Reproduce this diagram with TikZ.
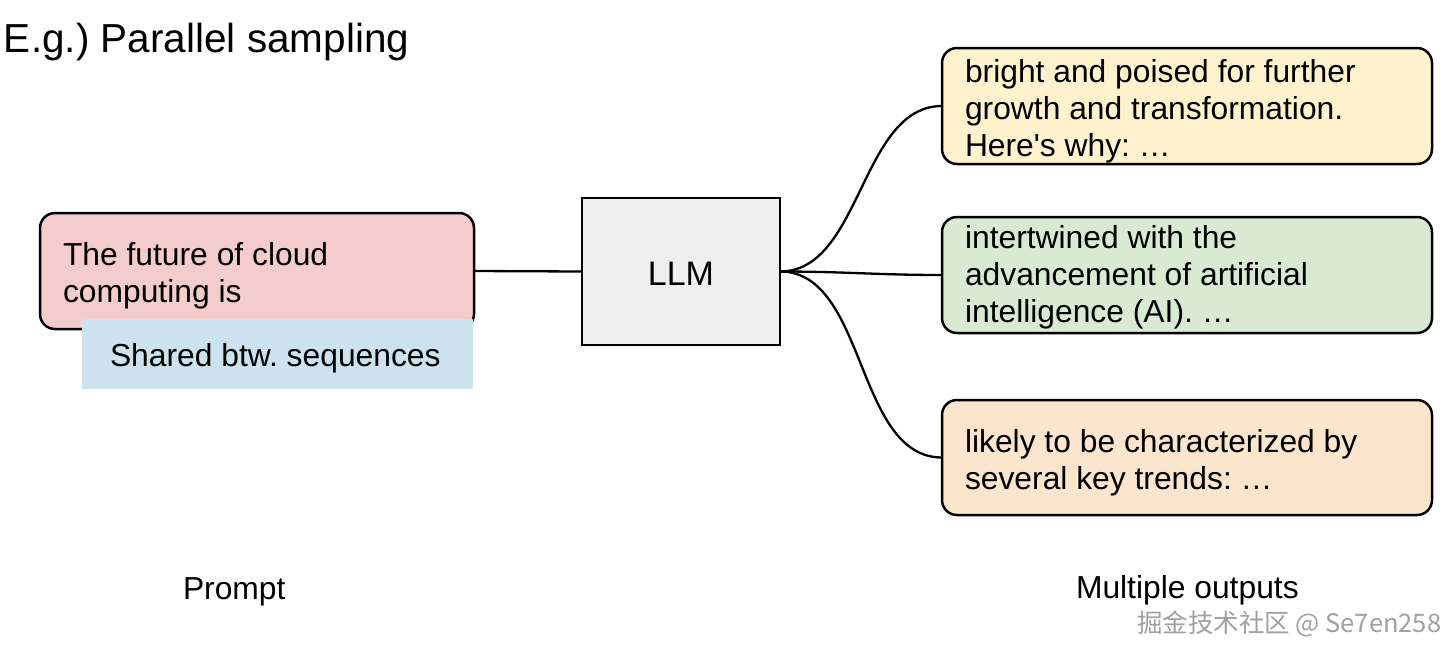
\documentclass[tikz,border=0pt]{standalone}
\usepackage{fontspec}
\newfontfamily\arialf{Liberation Sans}
\newfontfamily\cjk{Noto Sans CJK SC}
\definecolor{promptred}{HTML}{F4CCCC}
\definecolor{sharedblue}{HTML}{CCE2EE}
\definecolor{llmgray}{HTML}{EFEFEF}
\definecolor{outyellow}{HTML}{FFF2CC}
\definecolor{outgreen}{HTML}{D9EAD3}
\definecolor{outorange}{HTML}{FCE5CD}
\definecolor{wmgray}{HTML}{A0A0A0}
\newcommand{\firstline}{\rule{0pt}{25pt}}
\begin{document}
\frenchspacing
\begin{tikzpicture}[x=1pt,y=-1pt,
  every node/.style={inner sep=0pt, outer sep=0pt},
  roundbox/.style={draw=black, line width=2.5pt, rounded corners=15pt},
  bodytext/.style={anchor=north west, align=left, font=\arialf\frenchspacing\fontsize{31.8}{37}\selectfont},
  labeltext/.style={anchor=base west, font=\arialf\frenchspacing\fontsize{31.8}{37}\selectfont},
  conn/.style={draw=black, line width=2.3pt}]
\useasboundingbox (0,0) rectangle (1456,654);
\fill[white] (0,0) rectangle (1456,654);

% title
\node[anchor=base west, font=\arialf\frenchspacing\fontsize{40.5}{46}\selectfont] (title) at (4,52) {E.g.) Parallel sampling};

% boxes
\node[roundbox, fill=promptred, minimum width=434pt, minimum height=116pt] (prompt) at (257,271) {};
\node[draw=black, line width=2.5pt, fill=llmgray, minimum width=198pt, minimum height=147pt] (llm) at (681,271.5) {};
\node[roundbox, fill=outyellow, minimum width=490pt, minimum height=116pt] (o1) at (1187,106) {};
\node[roundbox, fill=outgreen, minimum width=490pt, minimum height=116pt] (o2) at (1187,275) {};
\node[roundbox, fill=outorange, minimum width=490pt, minimum height=115pt] (o3) at (1187,457.5) {};

% connectors
\draw[conn] (prompt.east) -- (llm.west);
\draw[conn] (llm.east) to[out=0,in=180,looseness=0.9] (o1.west);
\draw[conn] (llm.east) to[out=0,in=180] (o2.west);
\draw[conn] (llm.east) to[out=0,in=180,looseness=0.9] (o3.west);

% shared band over the prompt box
\node[fill=sharedblue, minimum width=391pt, minimum height=70pt] (shared) at (277.5,354) {};

% texts
\node[bodytext] (prompttext) at (63,240) {\firstline The future of cloud\\computing is};
\node[labeltext] (sharedtext) at (110,366) {Shared btw. sequences};
\node[font=\arialf\fontsize{34}{40}\selectfont, anchor=base] (llmtext) at (681,285) {LLM};
\node[bodytext] (o1text) at (965,57) {\firstline bright and poised for further\\growth and transformation.\\Here's why: …};
\node[bodytext] (o2text) at (965,223) {\firstline intertwined with the\\advancement of artificial\\intelligence (AI). …};
\node[bodytext] (o3text) at (965,427) {\firstline likely to be characterized by\\several key trends: …};

\node[labeltext] (promptlabel) at (183,599) {Prompt};
\node[labeltext] (outlabel) at (1076,598) {Multiple outputs};

% watermark
\node[anchor=base west, text=wmgray, font=\cjk\fontsize{25.5}{30}\selectfont] (watermark) at (1137,632) {掘金技术社区 @ Se7en258};
\end{tikzpicture}
\end{document}
